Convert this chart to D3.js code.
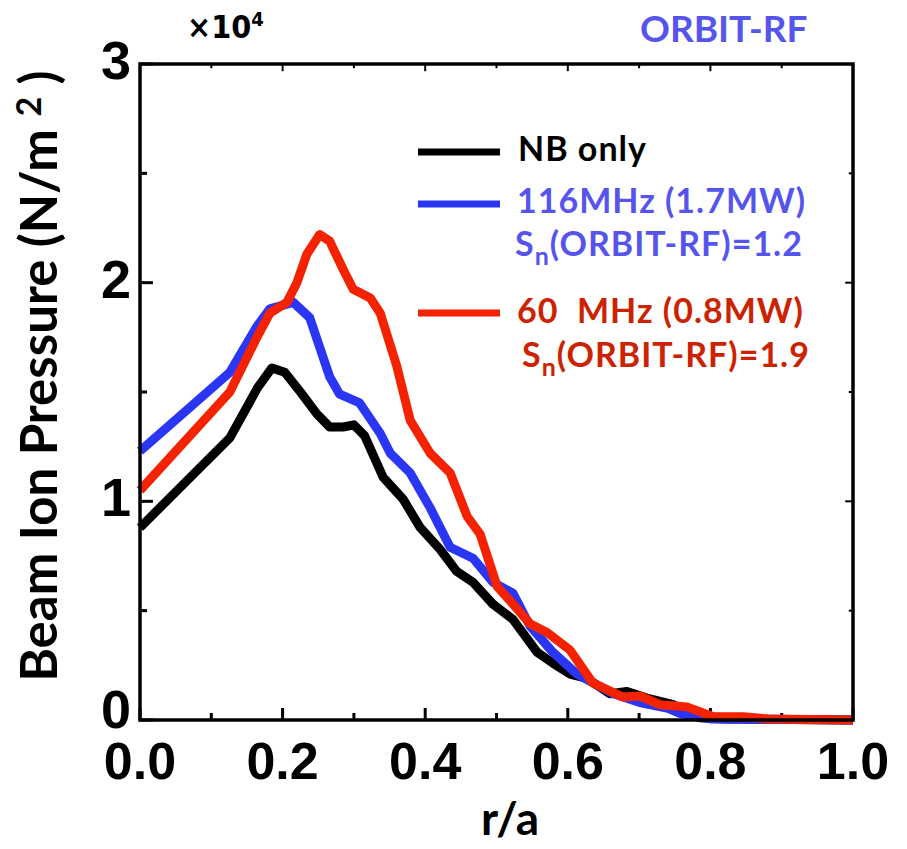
<!DOCTYPE html>
<html><head><meta charset="utf-8">
<script src="https://cdn.jsdelivr.net/npm/d3@7"></script>
<style>body{margin:0;background:#fff}svg{display:block}</style>
</head><body>
<svg id="c" width="907" height="849"></svg>
<script>
const nbOnly = [[0,0.88],[0.126,1.29],[0.165,1.52],[0.185,1.61],[0.203,1.59],[0.225,1.50],[0.248,1.40],[0.266,1.34],[0.285,1.34],[0.300,1.35],[0.315,1.30],[0.341,1.11],[0.369,1.01],[0.393,0.88],[0.421,0.78],[0.444,0.68],[0.467,0.63],[0.495,0.53],[0.523,0.46],[0.557,0.31],[0.579,0.26],[0.603,0.21],[0.627,0.19],[0.659,0.12],[0.683,0.13],[0.711,0.10],[0.748,0.07],[0.785,0.01],[0.82,0.005],[1.0,0]];
const mhz116 = [[0,1.23],[0.126,1.59],[0.164,1.80],[0.182,1.88],[0.215,1.91],[0.238,1.84],[0.266,1.57],[0.280,1.49],[0.308,1.45],[0.337,1.31],[0.351,1.22],[0.379,1.13],[0.407,0.97],[0.435,0.79],[0.467,0.74],[0.495,0.63],[0.523,0.58],[0.547,0.43],[0.579,0.31],[0.613,0.21],[0.641,0.16],[0.664,0.12],[0.701,0.08],[0.739,0.055],[0.757,0.03],[0.80,0.005],[1.0,0]];
const mhz60 = [[0,1.05],[0.126,1.50],[0.164,1.75],[0.182,1.86],[0.206,1.91],[0.220,2.00],[0.234,2.13],[0.252,2.22],[0.266,2.19],[0.285,2.06],[0.299,1.97],[0.323,1.93],[0.337,1.86],[0.360,1.62],[0.379,1.37],[0.407,1.22],[0.435,1.13],[0.459,0.93],[0.477,0.85],[0.501,0.61],[0.523,0.53],[0.547,0.44],[0.571,0.40],[0.603,0.32],[0.635,0.17],[0.677,0.105],[0.701,0.11],[0.729,0.07],[0.767,0.06],[0.804,0.015],[0.846,0.015],[0.88,0.005],[1.0,0]];
const xTickLabels = ["0.0","0.2","0.4","0.6","0.8","1.0"];
const yTickLabels = ["0","1","2","3"];

const svg = d3.select("#c");
const L=140,R=853,T=64,B=720;
const x = d3.scaleLinear().domain([0,1]).range([L,R]);
const y = d3.scaleLinear().domain([0,3]).range([B,T]);
const numFont = "'Liberation Sans Narrow','Liberation Sans',sans-serif";
const txtFont = "'Lato','DejaVu Sans',sans-serif";

// ticks
const g = svg.append("g");
const xt = d3.range(0,1.0001,0.1), yt = d3.range(0,3.0001,0.5);
xt.forEach((v,i)=>{const len = i%2===0?12:7;
  g.append("line").attr("x1",x(v)).attr("x2",x(v)).attr("y1",B).attr("y2",B-len).attr("stroke","#000").attr("stroke-width",3);
  g.append("line").attr("x1",x(v)).attr("x2",x(v)).attr("y1",T).attr("y2",T+len*0.6).attr("stroke","#000").attr("stroke-width",2);
});
yt.forEach((v,i)=>{const len = i%2===0?13:7;
  g.append("line").attr("x1",L).attr("x2",L+len).attr("y1",y(v)).attr("y2",y(v)).attr("stroke","#000").attr("stroke-width",3);
  g.append("line").attr("x1",R).attr("x2",R-len*0.6).attr("y1",y(v)).attr("y2",y(v)).attr("stroke","#000").attr("stroke-width",2);
});
xTickLabels.forEach((t,i)=>{
  svg.append("text").attr("x",x(i*0.2)).attr("y",779).attr("text-anchor","middle")
    .attr("font-family",numFont).attr("font-weight","bold").attr("font-size",52).text(t);
});
yTickLabels.forEach((t,i)=>{
  svg.append("text").attr("x",131).attr("y",y(i)+(i===0?8:15)).attr("text-anchor","end")
    .attr("font-family",numFont).attr("font-weight","bold").attr("font-size",54).text(t);
});

// curves
const line = d3.line().x(d=>x(d[0])).y(d=>y(d[1])).curve(d3.curveLinear);
const series = [[nbOnly,"#000000"],[mhz116,"#2b36f5"],[mhz60,"#f52200"]];
series.forEach(([d,c])=>{
  svg.append("path").datum(d).attr("d",line).attr("fill","none").attr("stroke",c)
    .attr("stroke-width",9).attr("stroke-linejoin","round").attr("stroke-linecap","butt");
});

// frame
svg.append("rect").attr("x",L).attr("y",T).attr("width",R-L).attr("height",B-T)
  .attr("fill","none").attr("stroke","#000").attr("stroke-width",3.5);

// legend
const leg = [
  {y:152,c:"#000",lines:[{t:"NB only",y:161,x:518,c:"#000"}]},
  {y:204,c:"#2b36f5",lines:[{t:"116MHz (1.7MW)",y:213,x:517,c:"#5555ee"},{t:"S",sub:"n",rest:"(ORBIT-RF)=1.2",y:256,x:515,c:"#5555ee"}]},
  {y:313,c:"#f52200",lines:[{t:"60  MHz (0.8MW)",y:323,x:517,c:"#cc2200"},{t:"S",sub:"n",rest:"(ORBIT-RF)=1.9",y:367,x:522,c:"#cc2200"}]}
];
leg.forEach(l=>{
  svg.append("line").attr("x1",418).attr("x2",500).attr("y1",l.y).attr("y2",l.y).attr("stroke",l.c).attr("stroke-width",7);
  l.lines.forEach(s=>{
    const t = svg.append("text").attr("x",s.x).attr("y",s.y).attr("fill",s.c)
      .attr("font-family",txtFont).attr("font-weight","bold").attr("font-size",34)
      .attr("letter-spacing",1).style("white-space","pre");
    t.append("tspan").text(s.t);
    if(s.sub){
      t.append("tspan").attr("dy",9).attr("font-size",25).text(s.sub);
      t.append("tspan").attr("dy",-9).text(s.rest);
    }
  });
});

// titles
svg.append("text").attr("x",187).attr("y",38).attr("font-family","'DejaVu Sans Condensed','DejaVu Sans',sans-serif").attr("font-size",32).attr("font-weight","bold").attr("fill","#000")
  .html('×10<tspan dy="-12" font-size="20">4</tspan>');
svg.append("text").attr("x",640).attr("y",42).attr("font-family",txtFont).attr("font-size",37).attr("font-weight","bold").attr("fill","#5555ee").text("ORBIT-RF");
svg.append("text").attr("x",510).attr("y",835).attr("text-anchor","middle").attr("font-family",txtFont).attr("font-size",46).attr("font-weight","bold").text("r/a");
svg.append("text").attr("transform","translate(57,376) rotate(-90)").attr("text-anchor","middle")
  .attr("font-family",txtFont).attr("font-size",51).attr("font-weight","bold").style("white-space","pre")
  .html('Beam Ion Pressure (N/m <tspan dy="-16" font-size="34">2</tspan><tspan dy="16"> )</tspan>');
</script>
</body></html>
